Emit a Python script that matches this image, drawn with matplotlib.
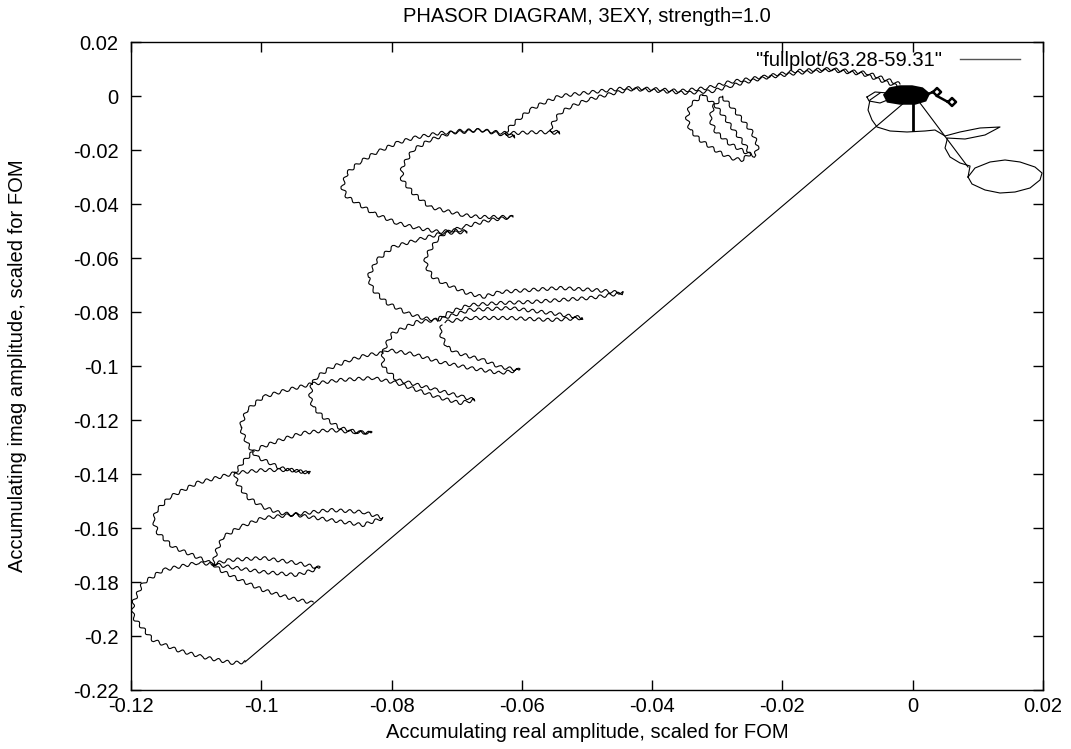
import matplotlib
matplotlib.use("Agg")
import matplotlib.pyplot as plt
from matplotlib.lines import Line2D

plt.rcParams['font.family'] = ['Liberation Sans', 'DejaVu Sans']

title_text = "PHASOR DIAGRAM, 3EXY, strength=1.0"
x_label = "Accumulating real amplitude, scaled for FOM"
y_label = "Accumulating imag amplitude, scaled for FOM"
legend_label = '"fullplot/63.28-59.31"'

x_ticks = [-0.12, -0.10, -0.08, -0.06, -0.04, -0.02, 0.0, 0.02]
x_tick_labels = ["-0.12", "-0.1", "-0.08", "-0.06", "-0.04", "-0.02", "0", "0.02"]
y_ticks = [0.02, 0.0, -0.02, -0.04, -0.06, -0.08, -0.10, -0.12, -0.14, -0.16, -0.18, -0.20, -0.22]
y_tick_labels = ["0.02", "0", "-0.02", "-0.04", "-0.06", "-0.08", "-0.1", "-0.12", "-0.14",
                 "-0.16", "-0.18", "-0.2", "-0.22"]

# ---- wiggly phasor arcs (x, y) ----
arc_outer = [(-0.00195,0.00444),(-0.00702,0.00852),(-0.01270,0.01000),(-0.01776,0.00926),(-0.02298,0.00704),
             (-0.02805,0.00519),(-0.03158,0.00296),(-0.03572,0.00185),(-0.03987,0.00259),(-0.04386,0.00296),
             (-0.04908,0.00148),(-0.05415,0.0),(-0.05675,-0.00259),(-0.05875,-0.00519),(-0.06029,-0.00815),
             (-0.06182,-0.01148),(-0.06259,-0.01370),(-0.06105,-0.01519),(-0.06336,-0.01407),(-0.06643,-0.01259),
             (-0.06904,-0.01333),(-0.07257,-0.01370),(-0.07671,-0.01556),(-0.07917,-0.01741),(-0.08224,-0.02074),
             (-0.08485,-0.02444),(-0.08684,-0.02852),(-0.08761,-0.03370),(-0.08684,-0.03741),(-0.08531,-0.03963),
             (-0.08285,-0.04333),(-0.07917,-0.04704),(-0.07610,-0.04889),(-0.07257,-0.05037),(-0.06996,-0.04963),
             (-0.06842,-0.05037)]
arc_inner = [(-0.00241,0.00370),(-0.00763,0.00815),(-0.01270,0.00963),(-0.01776,0.00852),(-0.02298,0.00667),
             (-0.02805,0.00370),(-0.03066,0.00185),(-0.03465,0.00111),(-0.03879,0.00185),(-0.04294,0.00259),
             (-0.04647,0.00074),(-0.05000,-0.00148),(-0.05261,-0.00407),(-0.05415,-0.00630),(-0.05522,-0.01000),
             (-0.05568,-0.01259),(-0.05415,-0.01370),(-0.05722,-0.01333),(-0.06075,-0.01370),(-0.06290,-0.01370),
             (-0.06643,-0.01259),(-0.06996,-0.01296),(-0.07410,-0.01630),(-0.07671,-0.02000),(-0.07840,-0.02630),
             (-0.07840,-0.03111),(-0.07671,-0.03593),(-0.07410,-0.04111),(-0.06904,-0.04407),(-0.06643,-0.04481),
             (-0.06136,-0.04481)]
lens_a = [(-0.03219,0.00037),(-0.03419,-0.00333),(-0.03465,-0.00815),(-0.03419,-0.01259),(-0.03265,-0.01630),
          (-0.03035,-0.02000),(-0.02805,-0.02296),(-0.02621,-0.02370),(-0.02498,-0.02148),(-0.02574,-0.01815),
          (-0.02728,-0.01333),(-0.02881,-0.00815),(-0.03035,-0.00333),(-0.03219,0.00037)]
lens_b = [(-0.02928,-0.00037),(-0.03066,-0.00407),(-0.03112,-0.00889),(-0.03020,-0.01333),(-0.02805,-0.01778),
          (-0.02574,-0.02074),(-0.02421,-0.02222),(-0.02375,-0.01852),(-0.02467,-0.01333),(-0.02651,-0.00778),
          (-0.02805,-0.00333),(-0.02928,-0.00037)]
loop_c3 = [(-0.06842,-0.05037),(-0.07211,-0.05074),(-0.07610,-0.05333),(-0.07978,-0.05593),(-0.08224,-0.06074),
           (-0.08362,-0.06704),(-0.08285,-0.07185),(-0.08070,-0.07667),(-0.07763,-0.08037),(-0.07518,-0.08222),
           (-0.07303,-0.08296)]
loop_c4 = [(-0.06136,-0.04481),(-0.06489,-0.04593),(-0.06904,-0.04852),(-0.07180,-0.05074),(-0.07303,-0.05333),
           (-0.07410,-0.05704),(-0.07487,-0.06000),(-0.07456,-0.06370),(-0.07364,-0.06704),(-0.07211,-0.06926),
           (-0.06842,-0.07296),(-0.06597,-0.07444),(-0.06336,-0.07259),(-0.05875,-0.07185),(-0.05415,-0.07111),
           (-0.04877,-0.07185),(-0.04447,-0.07296),(-0.04954,-0.07481),(-0.05415,-0.07556),(-0.05875,-0.07630),
           (-0.06336,-0.07667),(-0.06796,-0.07741),(-0.07103,-0.08000),(-0.07303,-0.08296)]
spike_a2 = [(-0.07303,-0.08296),(-0.06796,-0.07926),(-0.06182,-0.07852),(-0.05568,-0.08037),(-0.05061,-0.08222),
            (-0.05568,-0.08296),(-0.06182,-0.08222),(-0.06796,-0.08222),(-0.07180,-0.08370)]
spike_b1 = [(-0.07226,-0.08481),(-0.07257,-0.08778),(-0.07149,-0.09296),(-0.06996,-0.09519),(-0.06597,-0.09778),
            (-0.06336,-0.10037),(-0.06029,-0.10148),(-0.06336,-0.10259),(-0.06796,-0.10074),(-0.07257,-0.09852),
            (-0.07671,-0.09556),(-0.08070,-0.09407),(-0.08132,-0.09519)]
arc_ab = [(-0.07303,-0.08296),(-0.07610,-0.08370),(-0.07978,-0.08778),(-0.08070,-0.09148),(-0.08132,-0.09519)]
spike_b2 = [(-0.08132,-0.09519),(-0.08132,-0.10037),(-0.08024,-0.10259),(-0.07917,-0.10519),(-0.07717,-0.10630),
            (-0.07303,-0.10889),(-0.06904,-0.11148),(-0.06719,-0.11259),(-0.06950,-0.11370),(-0.07303,-0.11148),
            (-0.07917,-0.10630),(-0.08285,-0.10444),(-0.08792,-0.10519),(-0.09222,-0.10667)]
arc_bc = [(-0.08132,-0.09519),(-0.08377,-0.09593),(-0.08638,-0.09778),(-0.08945,-0.10074),(-0.09145,-0.10407),
          (-0.09222,-0.10667)]
loop_cd = [(-0.09222,-0.10667),(-0.09606,-0.10889),(-0.09974,-0.11148),(-0.10220,-0.11630),(-0.10327,-0.12259),
           (-0.10220,-0.12852),(-0.10128,-0.13185)]
spike_c1 = [(-0.09222,-0.10667),(-0.09252,-0.11148),(-0.09206,-0.11519),(-0.09053,-0.11889),(-0.08792,-0.12296),
            (-0.08531,-0.12444),(-0.08301,-0.12481),(-0.08592,-0.12444),(-0.08945,-0.12370),(-0.09360,-0.12481),
            (-0.09713,-0.12741),(-0.09989,-0.13000),(-0.10128,-0.13185)]
arc_de = [(-0.10128,-0.13185),(-0.10281,-0.13556),(-0.10404,-0.13963)]
spike_d1 = [(-0.10128,-0.13185),(-0.10066,-0.13370),(-0.09866,-0.13593),(-0.09713,-0.13778),(-0.09252,-0.13963),
            (-0.09559,-0.13852),(-0.09974,-0.13852),(-0.10404,-0.13963)]
loop_ef = [(-0.10404,-0.13963),(-0.10987,-0.14333),(-0.11402,-0.14852),(-0.11601,-0.15333),(-0.11663,-0.15704),
           (-0.11586,-0.16185),(-0.11356,-0.16704),(-0.10987,-0.17074),(-0.10742,-0.17333)]
spike_e1 = [(-0.10404,-0.13963),(-0.10373,-0.14333),(-0.10220,-0.14852),(-0.09974,-0.15222),(-0.09713,-0.15444),
            (-0.09452,-0.15519),(-0.08945,-0.15704),(-0.08439,-0.15889),(-0.08132,-0.15630),(-0.08439,-0.15407),
            (-0.08945,-0.15333),(-0.09559,-0.15519),(-0.09974,-0.15630),(-0.10327,-0.15963),(-0.10588,-0.16333),
            (-0.10680,-0.16815),(-0.10742,-0.17333)]
spike_f1 = [(-0.10742,-0.17333),(-0.10481,-0.17185),(-0.09974,-0.17111),(-0.09452,-0.17296),(-0.09099,-0.17481),
            (-0.09452,-0.17741),(-0.09974,-0.17630),(-0.10481,-0.17444),(-0.10742,-0.17333)]
arc_f_tail = [(-0.10742,-0.17333),(-0.10634,-0.17556),(-0.10327,-0.17926),(-0.09974,-0.18296),(-0.09559,-0.18593),
              (-0.09206,-0.18778)]
loop_f_end = [(-0.10742,-0.17333),(-0.10987,-0.17296),(-0.11509,-0.17556),(-0.11816,-0.18037),(-0.11970,-0.18778),
              (-0.11970,-0.19296),(-0.11663,-0.20148),(-0.11294,-0.20519),(-0.10895,-0.20778),(-0.10434,-0.21000),
              (-0.10250,-0.20963)]

# ---- smooth parts near the origin ----
jump_line = [(-0.10250,-0.20963),(-0.00118,-0.00222)]
knot_a = [(-0.00425,0.00037),(-0.00348,0.00259),(-0.00195,0.00333),(-0.00011,0.00333),(0.00143,0.00259),
          (0.00235,0.00074),(0.00189,-0.00148),(0.00035,-0.00259),(-0.00195,-0.00259),(-0.00379,-0.00185),
          (-0.00425,0.00037)]
knot_b = [(-0.00318,0.0),(-0.00241,0.00185),(-0.00072,0.00222),(0.00081,0.00111),(0.00112,-0.00074),
          (-0.00041,-0.00185),(-0.00241,-0.00148),(-0.00318,0.0)]
knot_d = [(-0.00250,0.00070),(-0.00150,0.00150),(0.00000,0.00130),(0.00050,0.00000),(-0.00080,-0.00100),
          (-0.00220,-0.00080),(-0.00250,0.00070)]
knot_c = [(-0.00702,-0.00037),(-0.00579,0.00148),(-0.00379,0.00111),(-0.00348,-0.00111),(-0.00502,-0.00259),
          (-0.00671,-0.00185),(-0.00702,-0.00037)]
curl_a = [(0.00235,0.00074),(0.00312,0.00148),(0.00373,0.00296),(0.00435,0.00148),(0.00373,0.0),(0.00312,0.00148)]
curl_b = [(0.00373,0.0),(0.00542,-0.00222),(0.00603,-0.00074),(0.00665,-0.00222),(0.00603,-0.0037),(0.00542,-0.00222)]
lobe = [(-0.00502,0.00111),(-0.00656,-0.00148),(-0.00686,-0.00519),(-0.00625,-0.00889),(-0.00548,-0.01148),
        (-0.00348,-0.01296),(-0.00088,-0.01333),(0.00189,-0.01296),(0.00342,-0.01259),(0.00496,-0.01481),
        (0.00726,-0.01333),(0.01033,-0.01185),(0.01340,-0.01148),(0.01110,-0.01444),(0.00803,-0.01593),
        (0.00527,-0.01556),(0.00527,-0.01630),(0.00496,-0.01926),(0.00573,-0.02259),(0.00726,-0.02481),
        (0.00880,-0.02593),(0.00849,-0.03000)]
ellipse_loop = [(0.00849,-0.03000),(0.00956,-0.02667),(0.01187,-0.02444),(0.01417,-0.02370),(0.01647,-0.02444),
                (0.01877,-0.02630),(0.01985,-0.02852),(0.01954,-0.03111),(0.01801,-0.03407),(0.01570,-0.03556),
                (0.01340,-0.03593),(0.01110,-0.03481),(0.00910,-0.03259),(0.00849,-0.03000)]
stub = [(0.00005,-0.00222),(0.00005,-0.01259)]
spoke = [(0.00112,-0.00259),(0.00849,-0.02630)]

wiggly = [arc_outer, arc_inner, lens_a, lens_b, loop_c3, loop_c4, spike_a2, spike_b1, arc_ab, spike_b2,
          arc_bc, loop_cd, spike_c1, arc_de, spike_d1, loop_ef, spike_e1, spike_f1, arc_f_tail, loop_f_end]
smooth = [jump_line, knot_c, lobe, ellipse_loop, spoke]
dense = [knot_a, knot_b, knot_d]
curls = [curl_a, curl_b]

FS = 14.5
fig = plt.figure(figsize=(10.71, 7.49), dpi=100)
ax = fig.add_axes([131/1071, 1-690/749, (1043-131)/1071, (690-42)/749])

for seg in wiggly:
    xs, ys = zip(*seg)
    ln, = ax.plot(xs, ys, color='black', lw=0.8)
    ln.set_sketch_params(1.6, 9, 1)
for seg in smooth:
    xs, ys = zip(*seg)
    ax.plot(xs, ys, color='black', lw=0.8)
for seg in dense:
    xs, ys = zip(*seg)
    ax.fill(xs, ys, color='black', lw=2.5)
for seg in curls:
    xs, ys = zip(*seg)
    ax.plot(xs, ys, color='black', lw=1.8)
xs, ys = zip(*stub)
ax.plot(xs, ys, color='black', lw=2.0)

ax.set_xlim(-0.12, 0.02)
ax.set_ylim(-0.22, 0.02)
ax.set_xticks(x_ticks)
ax.set_xticklabels(x_tick_labels)
ax.set_yticks(y_ticks)
ax.set_yticklabels(y_tick_labels)
ax.tick_params(axis='both', direction='in', length=7, width=1, top=True, right=True, labelsize=FS)
ax.tick_params(axis='y', pad=9)
ax.tick_params(axis='x', pad=5)
for sp in ax.spines.values():
    sp.set_linewidth(1.0)

handle = Line2D([], [], color='#555555', lw=1.0)
ax.legend([handle], [legend_label], loc='center right', frameon=False, markerfirst=False,
          handlelength=3.0, handletextpad=0.85, fontsize=FS, borderaxespad=0.0, borderpad=0.0,
          bbox_to_anchor=((1020-131)/912, (690-61)/648))

fig.text(587/1071, 1-16/749, title_text, ha='center', va='center', fontsize=FS)
fig.text(587/1071, 1-733/749, x_label, ha='center', va='center', fontsize=FS)
fig.text(18/1071, 1-366/749, y_label, ha='center', va='center', rotation=90, fontsize=FS)

fig.savefig("out.png", dpi=100)
